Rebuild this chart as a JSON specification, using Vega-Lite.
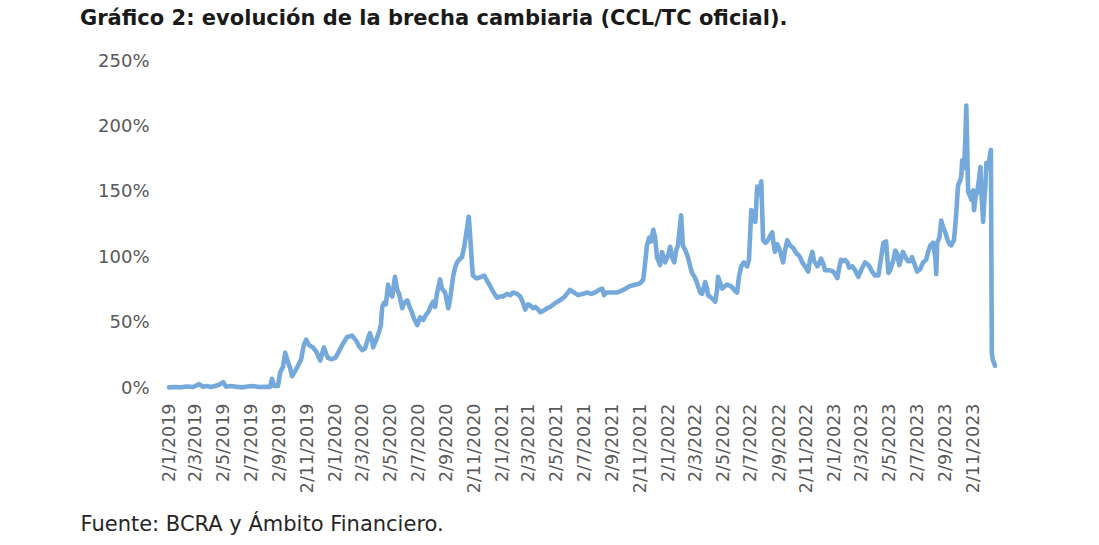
{
  "$schema": "https://vega.github.io/schema/vega-lite/v6.json",
  "width": 826,
  "height": 327,
  "autosize": "none",
  "padding": {"left": 169, "top": 61, "right": 104, "bottom": 157},
  "background": "white",
  "title": {
    "text": "Gráfico 2: evolución de la brecha cambiaria (CCL/TC oficial).",
    "anchor": "start",
    "frame": "group",
    "dx": -89,
    "offset": 6,
    "baseline": "alphabetic",
    "font": "DejaVu Sans",
    "fontSize": 21,
    "fontWeight": "bold",
    "color": "#1a1a1a"
  },
  "data": {
    "values": [
      {"d": "2019-01-02", "v": 0.005}, {"d": "2019-01-15", "v": 0.008}, {"d": "2019-01-28", "v": 0.005},
      {"d": "2019-02-10", "v": 0.012}, {"d": "2019-02-24", "v": 0.008}, {"d": "2019-03-09", "v": 0.03},
      {"d": "2019-03-18", "v": 0.01}, {"d": "2019-03-26", "v": 0.015}, {"d": "2019-04-04", "v": 0.008},
      {"d": "2019-04-13", "v": 0.015}, {"d": "2019-04-22", "v": 0.025}, {"d": "2019-05-01", "v": 0.045},
      {"d": "2019-05-07", "v": 0.01}, {"d": "2019-05-18", "v": 0.015}, {"d": "2019-05-29", "v": 0.01},
      {"d": "2019-06-11", "v": 0.005}, {"d": "2019-06-24", "v": 0.012}, {"d": "2019-07-05", "v": 0.015},
      {"d": "2019-07-19", "v": 0.008}, {"d": "2019-08-01", "v": 0.01}, {"d": "2019-08-12", "v": 0.008},
      {"d": "2019-08-16", "v": 0.07}, {"d": "2019-08-21", "v": 0.015}, {"d": "2019-08-29", "v": 0.015},
      {"d": "2019-09-03", "v": 0.12}, {"d": "2019-09-09", "v": 0.16}, {"d": "2019-09-14", "v": 0.27},
      {"d": "2019-09-20", "v": 0.20}, {"d": "2019-09-25", "v": 0.15}, {"d": "2019-09-29", "v": 0.09},
      {"d": "2019-10-06", "v": 0.13}, {"d": "2019-10-12", "v": 0.17}, {"d": "2019-10-19", "v": 0.22},
      {"d": "2019-10-25", "v": 0.33}, {"d": "2019-10-30", "v": 0.37}, {"d": "2019-11-05", "v": 0.33},
      {"d": "2019-11-14", "v": 0.31}, {"d": "2019-11-21", "v": 0.28}, {"d": "2019-11-30", "v": 0.21},
      {"d": "2019-12-04", "v": 0.26}, {"d": "2019-12-08", "v": 0.31}, {"d": "2019-12-13", "v": 0.26},
      {"d": "2019-12-17", "v": 0.23}, {"d": "2019-12-24", "v": 0.22}, {"d": "2020-01-02", "v": 0.23},
      {"d": "2020-01-10", "v": 0.28}, {"d": "2020-01-19", "v": 0.34}, {"d": "2020-01-28", "v": 0.39},
      {"d": "2020-02-08", "v": 0.40}, {"d": "2020-02-17", "v": 0.36}, {"d": "2020-02-23", "v": 0.32},
      {"d": "2020-03-01", "v": 0.29}, {"d": "2020-03-07", "v": 0.30}, {"d": "2020-03-14", "v": 0.38},
      {"d": "2020-03-18", "v": 0.42}, {"d": "2020-03-23", "v": 0.36}, {"d": "2020-03-25", "v": 0.31},
      {"d": "2020-03-31", "v": 0.36}, {"d": "2020-04-07", "v": 0.43}, {"d": "2020-04-11", "v": 0.48},
      {"d": "2020-04-14", "v": 0.62}, {"d": "2020-04-18", "v": 0.65}, {"d": "2020-04-22", "v": 0.64},
      {"d": "2020-04-27", "v": 0.79}, {"d": "2020-05-01", "v": 0.72}, {"d": "2020-05-06", "v": 0.70},
      {"d": "2020-05-12", "v": 0.85}, {"d": "2020-05-17", "v": 0.75}, {"d": "2020-05-21", "v": 0.72},
      {"d": "2020-05-28", "v": 0.61}, {"d": "2020-06-01", "v": 0.65}, {"d": "2020-06-08", "v": 0.67},
      {"d": "2020-06-12", "v": 0.63}, {"d": "2020-06-19", "v": 0.57}, {"d": "2020-06-23", "v": 0.53},
      {"d": "2020-06-30", "v": 0.48}, {"d": "2020-07-06", "v": 0.54}, {"d": "2020-07-13", "v": 0.52},
      {"d": "2020-07-19", "v": 0.56}, {"d": "2020-07-24", "v": 0.58}, {"d": "2020-07-30", "v": 0.63},
      {"d": "2020-08-04", "v": 0.66}, {"d": "2020-08-08", "v": 0.62}, {"d": "2020-08-12", "v": 0.72},
      {"d": "2020-08-19", "v": 0.83}, {"d": "2020-08-23", "v": 0.76}, {"d": "2020-08-30", "v": 0.73},
      {"d": "2020-09-03", "v": 0.66}, {"d": "2020-09-06", "v": 0.61}, {"d": "2020-09-10", "v": 0.68},
      {"d": "2020-09-17", "v": 0.86}, {"d": "2020-09-21", "v": 0.92}, {"d": "2020-09-25", "v": 0.96},
      {"d": "2020-10-02", "v": 0.99}, {"d": "2020-10-06", "v": 1.00}, {"d": "2020-10-11", "v": 1.08},
      {"d": "2020-10-15", "v": 1.17}, {"d": "2020-10-21", "v": 1.31}, {"d": "2020-10-25", "v": 1.11},
      {"d": "2020-10-28", "v": 0.95}, {"d": "2020-10-30", "v": 0.86}, {"d": "2020-11-06", "v": 0.84},
      {"d": "2020-11-10", "v": 0.84}, {"d": "2020-11-17", "v": 0.85}, {"d": "2020-11-24", "v": 0.86},
      {"d": "2020-11-30", "v": 0.82}, {"d": "2020-12-07", "v": 0.78}, {"d": "2020-12-11", "v": 0.75},
      {"d": "2020-12-18", "v": 0.71}, {"d": "2020-12-22", "v": 0.69}, {"d": "2020-12-29", "v": 0.70},
      {"d": "2021-01-04", "v": 0.70}, {"d": "2021-01-13", "v": 0.72}, {"d": "2021-01-20", "v": 0.71},
      {"d": "2021-01-26", "v": 0.73}, {"d": "2021-02-04", "v": 0.72}, {"d": "2021-02-11", "v": 0.70},
      {"d": "2021-02-17", "v": 0.65}, {"d": "2021-02-22", "v": 0.60}, {"d": "2021-02-28", "v": 0.64},
      {"d": "2021-03-05", "v": 0.63}, {"d": "2021-03-11", "v": 0.61}, {"d": "2021-03-16", "v": 0.62},
      {"d": "2021-03-22", "v": 0.60}, {"d": "2021-03-27", "v": 0.58}, {"d": "2021-04-02", "v": 0.59},
      {"d": "2021-04-11", "v": 0.61}, {"d": "2021-04-18", "v": 0.62}, {"d": "2021-04-29", "v": 0.65},
      {"d": "2021-05-09", "v": 0.67}, {"d": "2021-05-20", "v": 0.70}, {"d": "2021-05-31", "v": 0.75},
      {"d": "2021-06-09", "v": 0.73}, {"d": "2021-06-18", "v": 0.71}, {"d": "2021-06-29", "v": 0.72},
      {"d": "2021-07-08", "v": 0.73}, {"d": "2021-07-17", "v": 0.72}, {"d": "2021-07-25", "v": 0.73},
      {"d": "2021-08-03", "v": 0.75}, {"d": "2021-08-10", "v": 0.76}, {"d": "2021-08-14", "v": 0.71},
      {"d": "2021-08-18", "v": 0.73}, {"d": "2021-08-27", "v": 0.73}, {"d": "2021-09-12", "v": 0.73},
      {"d": "2021-09-25", "v": 0.75}, {"d": "2021-10-10", "v": 0.78}, {"d": "2021-10-21", "v": 0.79},
      {"d": "2021-11-01", "v": 0.80}, {"d": "2021-11-08", "v": 0.83}, {"d": "2021-11-12", "v": 0.95},
      {"d": "2021-11-16", "v": 1.09}, {"d": "2021-11-21", "v": 1.15}, {"d": "2021-11-25", "v": 1.12},
      {"d": "2021-11-30", "v": 1.21}, {"d": "2021-12-04", "v": 1.15}, {"d": "2021-12-08", "v": 1.00},
      {"d": "2021-12-15", "v": 0.94}, {"d": "2021-12-19", "v": 1.04}, {"d": "2021-12-26", "v": 0.96},
      {"d": "2022-01-02", "v": 1.02}, {"d": "2022-01-06", "v": 1.08}, {"d": "2022-01-10", "v": 1.00},
      {"d": "2022-01-15", "v": 0.96}, {"d": "2022-01-19", "v": 1.05}, {"d": "2022-01-23", "v": 1.09},
      {"d": "2022-01-28", "v": 1.25}, {"d": "2022-01-30", "v": 1.32}, {"d": "2022-02-03", "v": 1.09},
      {"d": "2022-02-10", "v": 1.04}, {"d": "2022-02-14", "v": 1.00}, {"d": "2022-02-19", "v": 0.93},
      {"d": "2022-02-23", "v": 0.88}, {"d": "2022-03-02", "v": 0.84}, {"d": "2022-03-06", "v": 0.80},
      {"d": "2022-03-13", "v": 0.73}, {"d": "2022-03-17", "v": 0.72}, {"d": "2022-03-24", "v": 0.81},
      {"d": "2022-03-28", "v": 0.76}, {"d": "2022-03-30", "v": 0.71}, {"d": "2022-04-06", "v": 0.69},
      {"d": "2022-04-10", "v": 0.68}, {"d": "2022-04-15", "v": 0.66}, {"d": "2022-04-19", "v": 0.75},
      {"d": "2022-04-21", "v": 0.85}, {"d": "2022-04-26", "v": 0.80}, {"d": "2022-04-30", "v": 0.76},
      {"d": "2022-05-07", "v": 0.78}, {"d": "2022-05-11", "v": 0.79}, {"d": "2022-05-18", "v": 0.78},
      {"d": "2022-05-22", "v": 0.77}, {"d": "2022-05-29", "v": 0.74}, {"d": "2022-06-02", "v": 0.73},
      {"d": "2022-06-06", "v": 0.85}, {"d": "2022-06-11", "v": 0.93}, {"d": "2022-06-17", "v": 0.96},
      {"d": "2022-06-24", "v": 0.93}, {"d": "2022-06-28", "v": 0.98}, {"d": "2022-07-03", "v": 1.36},
      {"d": "2022-07-07", "v": 1.34}, {"d": "2022-07-12", "v": 1.27}, {"d": "2022-07-16", "v": 1.54},
      {"d": "2022-07-20", "v": 1.48}, {"d": "2022-07-25", "v": 1.58}, {"d": "2022-07-29", "v": 1.13},
      {"d": "2022-08-03", "v": 1.11}, {"d": "2022-08-07", "v": 1.12}, {"d": "2022-08-13", "v": 1.16},
      {"d": "2022-08-18", "v": 1.19}, {"d": "2022-08-22", "v": 1.08}, {"d": "2022-08-24", "v": 1.04},
      {"d": "2022-08-29", "v": 1.10}, {"d": "2022-09-04", "v": 1.05}, {"d": "2022-09-11", "v": 0.96},
      {"d": "2022-09-15", "v": 1.05}, {"d": "2022-09-20", "v": 1.13}, {"d": "2022-09-26", "v": 1.09},
      {"d": "2022-10-03", "v": 1.07}, {"d": "2022-10-10", "v": 1.03}, {"d": "2022-10-14", "v": 1.02},
      {"d": "2022-10-18", "v": 1.00}, {"d": "2022-10-23", "v": 0.96}, {"d": "2022-10-29", "v": 0.93},
      {"d": "2022-11-05", "v": 0.89}, {"d": "2022-11-09", "v": 0.98}, {"d": "2022-11-14", "v": 1.04},
      {"d": "2022-11-18", "v": 0.97}, {"d": "2022-11-25", "v": 0.93}, {"d": "2022-11-29", "v": 0.95},
      {"d": "2022-12-03", "v": 0.99}, {"d": "2022-12-08", "v": 0.95}, {"d": "2022-12-12", "v": 0.90},
      {"d": "2022-12-17", "v": 0.90}, {"d": "2022-12-23", "v": 0.90}, {"d": "2022-12-30", "v": 0.89},
      {"d": "2023-01-03", "v": 0.87}, {"d": "2023-01-08", "v": 0.84}, {"d": "2023-01-12", "v": 0.92},
      {"d": "2023-01-16", "v": 0.98}, {"d": "2023-01-21", "v": 0.97}, {"d": "2023-01-25", "v": 0.98},
      {"d": "2023-01-30", "v": 0.96}, {"d": "2023-02-03", "v": 0.92}, {"d": "2023-02-10", "v": 0.93},
      {"d": "2023-02-16", "v": 0.90}, {"d": "2023-02-23", "v": 0.85}, {"d": "2023-03-01", "v": 0.90},
      {"d": "2023-03-10", "v": 0.96}, {"d": "2023-03-17", "v": 0.94}, {"d": "2023-03-21", "v": 0.92},
      {"d": "2023-03-25", "v": 0.89}, {"d": "2023-04-01", "v": 0.86}, {"d": "2023-04-08", "v": 0.86},
      {"d": "2023-04-12", "v": 0.95}, {"d": "2023-04-19", "v": 1.11}, {"d": "2023-04-25", "v": 1.12},
      {"d": "2023-04-30", "v": 0.88}, {"d": "2023-05-04", "v": 0.90}, {"d": "2023-05-11", "v": 0.98},
      {"d": "2023-05-15", "v": 1.05}, {"d": "2023-05-19", "v": 1.03}, {"d": "2023-05-24", "v": 0.94},
      {"d": "2023-05-28", "v": 0.99}, {"d": "2023-06-01", "v": 1.04}, {"d": "2023-06-08", "v": 0.99},
      {"d": "2023-06-12", "v": 0.97}, {"d": "2023-06-17", "v": 0.97}, {"d": "2023-06-21", "v": 1.00},
      {"d": "2023-06-28", "v": 0.93}, {"d": "2023-07-02", "v": 0.89}, {"d": "2023-07-09", "v": 0.91},
      {"d": "2023-07-15", "v": 0.96}, {"d": "2023-07-22", "v": 0.98}, {"d": "2023-07-26", "v": 1.04},
      {"d": "2023-07-31", "v": 1.09}, {"d": "2023-08-06", "v": 1.11}, {"d": "2023-08-11", "v": 1.00},
      {"d": "2023-08-13", "v": 0.87}, {"d": "2023-08-15", "v": 1.11}, {"d": "2023-08-20", "v": 1.15},
      {"d": "2023-08-24", "v": 1.28}, {"d": "2023-08-28", "v": 1.23}, {"d": "2023-09-02", "v": 1.19},
      {"d": "2023-09-06", "v": 1.14}, {"d": "2023-09-11", "v": 1.10}, {"d": "2023-09-15", "v": 1.09},
      {"d": "2023-09-19", "v": 1.12}, {"d": "2023-09-21", "v": 1.13}, {"d": "2023-09-24", "v": 1.25},
      {"d": "2023-09-26", "v": 1.34}, {"d": "2023-09-28", "v": 1.45}, {"d": "2023-09-30", "v": 1.55},
      {"d": "2023-10-05", "v": 1.59}, {"d": "2023-10-07", "v": 1.62}, {"d": "2023-10-09", "v": 1.74},
      {"d": "2023-10-13", "v": 1.68}, {"d": "2023-10-16", "v": 1.90}, {"d": "2023-10-18", "v": 2.16},
      {"d": "2023-10-20", "v": 1.84}, {"d": "2023-10-22", "v": 1.50}, {"d": "2023-10-27", "v": 1.46},
      {"d": "2023-10-29", "v": 1.44}, {"d": "2023-10-31", "v": 1.50}, {"d": "2023-11-02", "v": 1.51},
      {"d": "2023-11-04", "v": 1.36}, {"d": "2023-11-07", "v": 1.45}, {"d": "2023-11-09", "v": 1.48},
      {"d": "2023-11-11", "v": 1.50}, {"d": "2023-11-15", "v": 1.60}, {"d": "2023-11-18", "v": 1.69},
      {"d": "2023-11-20", "v": 1.50}, {"d": "2023-11-24", "v": 1.27}, {"d": "2023-11-26", "v": 1.40},
      {"d": "2023-11-29", "v": 1.55}, {"d": "2023-12-01", "v": 1.72}, {"d": "2023-12-05", "v": 1.68},
      {"d": "2023-12-08", "v": 1.76}, {"d": "2023-12-11", "v": 1.82}, {"d": "2023-12-13", "v": 0.27},
      {"d": "2023-12-15", "v": 0.22}, {"d": "2023-12-18", "v": 0.19}, {"d": "2023-12-20", "v": 0.17}
    ],
    "format": {"parse": {"d": "date:'%Y-%m-%d'"}}
  },
  "mark": {
    "type": "line",
    "color": "#75A9DB",
    "strokeWidth": 4.6,
    "strokeJoin": "round",
    "strokeCap": "round",
    "clip": false
  },
  "encoding": {
    "x": {
      "field": "d",
      "type": "temporal",
      "scale": {
        "domain": [
          {"year": 2019, "month": 1, "date": 2},
          {"year": 2023, "month": 12, "date": 20}
        ]
      },
      "axis": {
        "values": [
          {"year": 2019, "month": 1, "date": 2}, {"year": 2019, "month": 3, "date": 2},
          {"year": 2019, "month": 5, "date": 2}, {"year": 2019, "month": 7, "date": 2},
          {"year": 2019, "month": 9, "date": 2}, {"year": 2019, "month": 11, "date": 2},
          {"year": 2020, "month": 1, "date": 2}, {"year": 2020, "month": 3, "date": 2},
          {"year": 2020, "month": 5, "date": 2}, {"year": 2020, "month": 7, "date": 2},
          {"year": 2020, "month": 9, "date": 2}, {"year": 2020, "month": 11, "date": 2},
          {"year": 2021, "month": 1, "date": 2}, {"year": 2021, "month": 3, "date": 2},
          {"year": 2021, "month": 5, "date": 2}, {"year": 2021, "month": 7, "date": 2},
          {"year": 2021, "month": 9, "date": 2}, {"year": 2021, "month": 11, "date": 2},
          {"year": 2022, "month": 1, "date": 2}, {"year": 2022, "month": 3, "date": 2},
          {"year": 2022, "month": 5, "date": 2}, {"year": 2022, "month": 7, "date": 2},
          {"year": 2022, "month": 9, "date": 2}, {"year": 2022, "month": 11, "date": 2},
          {"year": 2023, "month": 1, "date": 2}, {"year": 2023, "month": 3, "date": 2},
          {"year": 2023, "month": 5, "date": 2}, {"year": 2023, "month": 7, "date": 2},
          {"year": 2023, "month": 9, "date": 2}, {"year": 2023, "month": 11, "date": 2}
        ],
        "format": "%-d/%-m/%Y",
        "labelAngle": -90,
        "labelAlign": "right",
        "labelBaseline": "middle",
        "labelPadding": 15,
        "labelFont": "DejaVu Sans",
        "labelFontSize": 17.5,
        "labelColor": "#595959",
        "labelOverlap": false,
        "labelFlush": false,
        "ticks": false,
        "domain": false,
        "grid": false,
        "title": "Fuente: BCRA y Ámbito Financiero.",
        "titleX": -89,
        "titleY": 142,
        "titleAlign": "left",
        "titleAnchor": null,
        "titleBaseline": "alphabetic",
        "titleFont": "DejaVu Sans",
        "titleFontSize": 21,
        "titleFontWeight": "normal",
        "titleColor": "#262626"
      }
    },
    "y": {
      "field": "v",
      "type": "quantitative",
      "scale": {"domain": [0, 2.5], "nice": false},
      "axis": {
        "values": [0, 0.5, 1, 1.5, 2, 2.5],
        "format": ".0%",
        "labelPadding": 20,
        "labelFont": "DejaVu Sans",
        "labelFontSize": 18,
        "labelColor": "#595959",
        "ticks": false,
        "domain": false,
        "grid": false,
        "title": null
      }
    }
  },
  "config": {
    "view": {"stroke": null}
  }
}
